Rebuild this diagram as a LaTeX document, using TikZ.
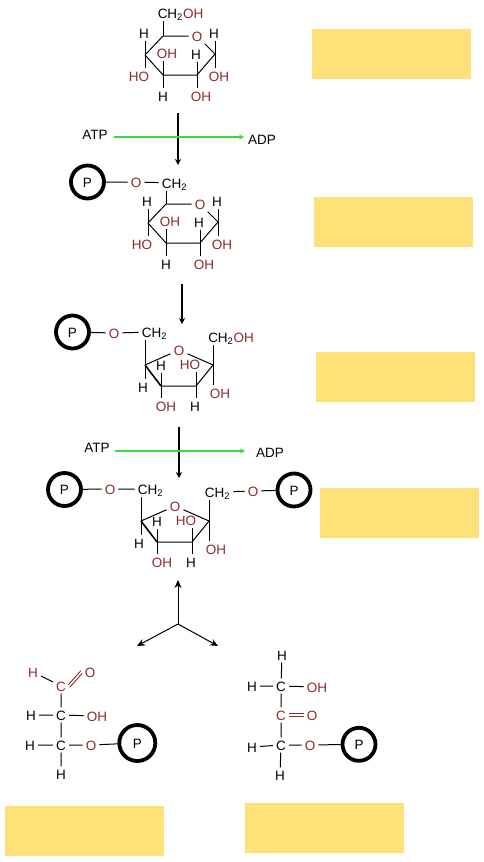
\documentclass[tikz,border=0pt]{standalone}
\usepackage{fontspec}
\setmainfont{Liberation Sans}
\usetikzlibrary{arrows.meta}
\definecolor{oxy}{HTML}{8E2A2A}
\definecolor{lab}{HTML}{FFE17A}
\definecolor{grn}{HTML}{3CD83C}
\tikzset{
  x=1pt,y=-1pt,
  atom/.style={inner xsep=3pt,inner ysep=2.5pt,text height=10pt,text depth=0pt,font=\fontsize{13.5}{15}\selectfont,text=black},
  ox/.style={atom,text=oxy},
  bond/.style={draw=black,line width=1pt},
  boldbond/.style={draw=black,line width=1.6pt},
  dblbond/.style={draw=oxy,line width=0.9pt},
  phos/.style={circle,draw=black,line width=3.8pt,minimum size=33pt,inner sep=0pt,text height=10pt,text depth=0pt,font=\fontsize{13.5}{15}\selectfont},
  bigphos/.style={phos,minimum size=36pt},
  react/.style={draw=black,line width=1.8pt,-{Stealth[length=6pt,width=6pt]}},
  atparrow/.style={draw=grn,line width=1.6pt,-{Stealth[length=5pt,width=5pt]}},
  splitarrow/.style={draw=black,line width=1pt,-{Stealth[length=8pt,width=7pt]}},
  answer/.style={fill=lab,draw=none,minimum width=159pt,minimum height=50pt,inner sep=0pt,anchor=north west},
}
\newcommand{\CHtwo}{CH\textsubscript{2}}
% pyranose ring, coordinates of the first molecule
\newcommand{\pyranosering}{
  \coordinate (c5) at (163,36); \coordinate (c1) at (215,54);
  \coordinate (c2) at (197,75); \coordinate (c3) at (163,75); \coordinate (c4) at (145,55);
  \node[ox] (o) at (197,36) {O};
  \node[atom] (h4) at (144,33) {H};
  \node[ox] (ho4) at (139,76) {HO};
  \node[ox] (oh3) at (167,53) {OH};
  \node[atom] (h3) at (163,96) {H};
  \node[atom] (h2) at (196,54) {H};
  \node[ox] (oh2) at (201,96) {OH};
  \node[atom] (h1) at (214,33) {H};
  \node[ox] (oh1) at (219,76) {OH};
  \draw[bond] (c5) -- (o) (o) -- (c1) -- (c2) -- (c3) -- (c4) -- (c5);
  \draw[bond] (c4) -- (c4 |- h4.south) (c4) -- (c4 |- ho4.north);
  \draw[bond] (c3) -- (c3 |- oh3.south) (c3) -- (c3 |- h3.north);
  \draw[bond] (c2) -- (c2 |- h2.south) (c2) -- (c2 |- oh2.north);
  \draw[bond] (c1) -- (c1 |- h1.south) (c1) -- (c1 |- oh1.north);
}
% furanose ring, coordinates of the third molecule
\newcommand{\furanosering}{
  \coordinate (c5) at (145,365); \coordinate (c2) at (213,365);
  \coordinate (c3) at (196,386); \coordinate (c4) at (161,386);
  \node[ox] (o) at (179,350) {O};
  \node[atom] (h5) at (143,387) {H};
  \node[atom] (h4) at (161,365) {H};
  \node[ox] (oh4) at (166,406) {OH};
  \node[ox] (ho3) at (190,364) {HO};
  \node[atom] (h3) at (195,406) {H};
  \node[ox] (oh2) at (220,393) {OH};
  \draw[bond] (c5) -- (o) (o) -- (c2) -- (c3) -- (c4);
  \draw[boldbond] (c5) -- (c4);
  \draw[bond] (c5) -- (c5 |- h5.north);
  \draw[bond] (c4) -- (c4 |- h4.south) (c4) -- (c4 |- oh4.north);
  \draw[bond] (c3) -- (c3 |- ho3.south) (c3) -- (c3 |- h3.north);
  \draw[bond] (c2) -- (c2 |- oh2.north);
}
\begin{document}
\begin{tikzpicture}
\useasboundingbox (0,0) rectangle (484,862);
% answer boxes
\node[answer] (box1) at (312,29) {};
\node[answer] (box2) at (314,197) {};
\node[answer] (box3) at (316,352) {};
\node[answer] (box4) at (320,488) {};
\node[answer] (box5) at (5,806) {};
\node[answer] (box6) at (245,803) {};

% glucose
\begin{scope}[name prefix=a-]
  \pyranosering
  \node[atom] (top) at (180.5,13) {\CHtwo\textcolor{oxy}{OH}};
  \draw[bond] (c5) -- (c5 |- top.south);
\end{scope}

% glucose 6-phosphate
\begin{scope}[shift={(3,168)},name prefix=b-]
  \pyranosering
  \node[atom] (top) at (171.5,15) {\CHtwo};
  \node[ox] (ol) at (133,14) {O};
  \node[phos] (p) at (84.5,14) {P};
  \draw[bond] (c5) -- (c5 |- top.south);
  \draw[bond] (p) -- (ol) (ol) -- (top);
\end{scope}

% fructose 6-phosphate
\begin{scope}[name prefix=c-]
  \furanosering
  \node[atom] (top) at (154.5,332) {\CHtwo};
  \node[ox] (ol) at (114,333) {O};
  \node[phos] (p) at (72.5,332) {P};
  \node[atom] (right) at (231,337) {\CHtwo\textcolor{oxy}{OH}};
  \draw[bond] (c5) -- (c5 |- top.south);
  \draw[bond] (c2) -- (c2 |- right.south);
  \draw[bond] (p) -- (ol) (ol) -- (top);
\end{scope}

% fructose 1,6-bisphosphate
\begin{scope}[shift={(-4,156)},name prefix=d-]
  \furanosering
  \node[atom] (top) at (154.5,333) {\CHtwo};
  \node[ox] (ol) at (114,333) {O};
  \node[phos] (p) at (68.5,333.5) {P};
  \node[atom] (right) at (221.5,336) {\CHtwo};
  \node[ox] (or) at (257,335) {O};
  \node[phos] (pr) at (298,334) {P};
  \draw[bond] (c5) -- (c5 |- top.south);
  \draw[bond] (c2) -- (c2 |- right.south);
  \draw[bond] (p) -- (ol) (ol) -- (top);
  \draw[bond] (right) -- (or) (or) -- (pr);
\end{scope}

% reaction arrows
\coordinate (r1s) at (178,113); \coordinate (r1e) at (178,165);
\coordinate (r2s) at (182,284); \coordinate (r2e) at (182,324);
\coordinate (r3s) at (179,427); \coordinate (r3e) at (179,478);
\draw[react] (r1s) -- (r1e);
\draw[react] (r2s) -- (r2e);
\draw[react] (r3s) -- (r3e);
\node[atom] (atp1) at (95,134) {ATP};
\node[atom] (adp1) at (262,139) {ADP};
\node[atom] (atp2) at (97,447) {ATP};
\node[atom] (adp2) at (270,452) {ADP};
\coordinate (g1s) at (114,137); \coordinate (g1e) at (244,137);
\coordinate (g2s) at (115,451); \coordinate (g2e) at (245,451);
\draw[atparrow] (g1s) -- (g1e);
\draw[atparrow] (g2s) -- (g2e);

% three-way split
\coordinate (hub) at (178,624);
\coordinate (su) at (178,580); \coordinate (sl) at (137,646); \coordinate (sr) at (218,646);
\draw[splitarrow] (hub) -- (su);
\draw[splitarrow] (hub) -- (sl);
\draw[splitarrow] (hub) -- (sr);

% glyceraldehyde 3-phosphate
\begin{scope}[name prefix=e-]
  \node[ox] (h0) at (33,672) {H};
  \node[ox] (c0) at (61,686) {C};
  \node[ox] (o0) at (90,672) {O};
  \node[atom] (c1) at (61,715) {C};
  \node[atom] (h1) at (31,715) {H};
  \node[ox] (oh) at (97,716) {OH};
  \node[atom] (c2) at (61,745) {C};
  \node[atom] (h2) at (30,745) {H};
  \node[ox] (o2) at (91,745) {O};
  \node[atom] (h3) at (61,774) {H};
  \node[bigphos] (p) at (137.3,743) {P};
  \draw[bond] (h0) -- (c0) (c0) -- (c1) (c1) -- (c2) (c2) -- (h3);
  \draw[dblbond] ([shift={(-0.7,-1.3)}]c0.east) -- ([shift={(-0.7,-1.3)}]o0.west);
  \draw[dblbond] ([shift={(0.7,1.3)}]c0.east) -- ([shift={(0.7,1.3)}]o0.west);
  \draw[bond] (h1) -- (c1) (c1) -- (oh);
  \draw[bond] (h2) -- (c2) (c2) -- (o2) (o2) -- (p);
\end{scope}

% dihydroxyacetone phosphate
\begin{scope}[name prefix=f-]
  \node[atom] (h0) at (282,655) {H};
  \node[atom] (c1) at (281,686) {C};
  \node[atom] (h1) at (252,686) {H};
  \node[ox] (oh) at (317,687) {OH};
  \node[ox] (c0) at (281,715) {C};
  \node[ox] (o0) at (312,715) {O};
  \node[atom] (c2) at (281,745) {C};
  \node[atom] (h2) at (252,747) {H};
  \node[ox] (o2) at (310,745) {O};
  \node[atom] (h3) at (280,775) {H};
  \node[phos] (p) at (359,744.3) {P};
  \draw[bond] (h0) -- (c1) (c1) -- (c0) (c0) -- (c2) (c2) -- (h3);
  \draw[dblbond] ([yshift=-1.5pt]c0.east) -- ([yshift=-1.5pt]o0.west);
  \draw[dblbond] ([yshift=1.5pt]c0.east) -- ([yshift=1.5pt]o0.west);
  \draw[bond] (h1) -- (c1) (c1) -- (oh);
  \draw[bond] (h2) -- (c2) (c2) -- (o2) (o2) -- (p);
\end{scope}
\end{tikzpicture}
\end{document}
